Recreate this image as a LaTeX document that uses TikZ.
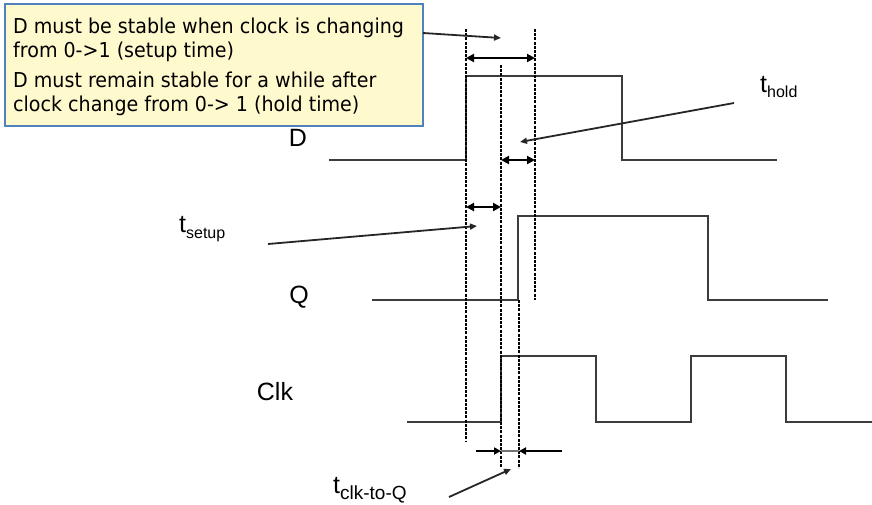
\documentclass[tikz,border=0pt]{standalone}
\usepackage{fontspec}
\setmainfont{Liberation Sans}
\newfontfamily\boxfont[FakeStretch=0.93]{DejaVu Sans}
\usetikzlibrary{arrows.meta}
\definecolor{boxfill}{RGB}{255,250,205}
\definecolor{boxline}{RGB}{79,129,189}
\definecolor{wavecol}{RGB}{60,60,60}
\begin{document}
\begin{tikzpicture}[x=1pt,y=-1pt,
  wave/.style={draw=wavecol, line width=2.3pt, line join=miter},
  vdash/.style={draw=black, line width=2.8pt, dash pattern=on 3pt off 1.2pt},
  meas/.style={draw=black, line width=2.4pt, {Triangle[length=8pt,width=8pt]}-{Triangle[length=8pt,width=8pt]}},
  halfmeas/.style={draw=black, line width=2.4pt, -{Triangle[length=7pt,width=7pt]}},
  pointer/.style={draw=black!85, line width=1.8pt, -{Triangle[length=7pt,width=6pt]}},
  sig/.style={font=\fontsize{25}{30}\selectfont, inner sep=0pt},
  boxtext/.style={font=\boxfont\fontsize{20.5}{24}\selectfont, inner sep=0pt, anchor=base west},
  callout/.style={draw=boxline, fill=boxfill, line width=2.2pt, inner sep=0pt},
]
\useasboundingbox (0,0) rectangle (872,504);

% callout box
\node[callout, anchor=north west, minimum width=418pt, minimum height=122pt] (box) at (4,3) {};
\node[boxtext] (l1) at (13,33) {D must be stable when clock is changing};
\node[boxtext] (l2) at (13,57) {from 0->1 (setup time)};
\node[boxtext] (l3) at (13,87) {D must remain stable for a while after};
\node[boxtext] (l4) at (13,111) {clock change from 0-> 1 (hold time)};

% signal labels
\node[sig] (lD) at (298,138) {D};
\node[sig] (lQ) at (299,297) {Q};
\node[sig] (lClk) at (275,392) {Clk};

% timing labels
\node[sig, anchor=base west] (tsetup) at (179,232) {t\raisebox{-6pt}{\fontsize{16}{16}\selectfont setup}};
\node[sig, anchor=base west] (thold) at (760,92) {t\raisebox{-5pt}{\fontsize{16}{16}\selectfont hold}};
\node[sig, anchor=base west] (tclk) at (333,493) {t\raisebox{-6pt}{\fontsize{19}{19}\selectfont clk-to-Q}};

% waveforms
\coordinate (d0) at (329,160); \coordinate (d1) at (466,160); \coordinate (d2) at (466,76);
\coordinate (d3) at (622,76); \coordinate (d4) at (622,160); \coordinate (d5) at (777,160);
\draw[wave] (d0) -- (d1) -- (d2) -- (d3) -- (d4) -- (d5);

\coordinate (q0) at (372,300); \coordinate (q1) at (518,300); \coordinate (q2) at (518,216);
\coordinate (q3) at (708,216); \coordinate (q4) at (708,300); \coordinate (q5) at (828,300);
\draw[wave] (q0) -- (q1) -- (q2) -- (q3) -- (q4) -- (q5);

\coordinate (c0) at (407,422); \coordinate (c1) at (501,422); \coordinate (c2) at (501,356);
\coordinate (c3) at (596,356); \coordinate (c4) at (596,422); \coordinate (c5) at (691,422);
\coordinate (c6) at (691,356); \coordinate (c7) at (786,356); \coordinate (c8) at (786,422);
\coordinate (c9) at (872,422);
\draw[wave] (c0) -- (c1) -- (c2) -- (c3) -- (c4) -- (c5) -- (c6) -- (c7) -- (c8) -- (c9);

% dashed verticals
\coordinate (aT) at (466,29); \coordinate (aB) at (466,442);
\coordinate (bT) at (501,65); \coordinate (bB) at (501,468);
\coordinate (cT) at (535,29); \coordinate (cB) at (535,300);
\coordinate (eT) at (519,300); \coordinate (eB) at (519,468);
\draw[vdash] (aT) -- (aB);
\draw[vdash] (bT) -- (bB);
\draw[vdash] (cT) -- (cB);
\draw[vdash] (eT) -- (eB);

% measurement arrows
\coordinate (m1a) at (466,58); \coordinate (m1b) at (535,58);
\coordinate (m2a) at (501,160); \coordinate (m2b) at (535,160);
\coordinate (m3a) at (466,207); \coordinate (m3b) at (501,207);
\draw[meas] (m1a) -- (m1b);
\draw[meas] (m2a) -- (m2b);
\draw[meas] (m3a) -- (m3b);

% clk-to-Q measurement
\coordinate (k0) at (476,451); \coordinate (k1) at (501,451);
\coordinate (k2) at (519,451); \coordinate (k3) at (562,451);
\draw[draw=black!55, line width=1.8pt] (k1) -- (k2);
\draw[halfmeas] (k0) -- (k1);
\draw[halfmeas] (k3) -- (k2);

% pointers
\coordinate (p1s) at (423,33); \coordinate (p1e) at (501,38);
\draw[pointer] (p1s) -- (p1e);
\coordinate (p2s) at (734,103); \coordinate (p2e) at (520,142);
\draw[pointer] (p2s) -- (p2e);
\coordinate (p3s) at (268,244); \coordinate (p3e) at (477,226);
\draw[pointer] (p3s) -- (p3e);
\coordinate (p4s) at (449,497); \coordinate (p4e) at (511,469);
\draw[pointer] (p4s) -- (p4e);
\end{tikzpicture}
\end{document}
